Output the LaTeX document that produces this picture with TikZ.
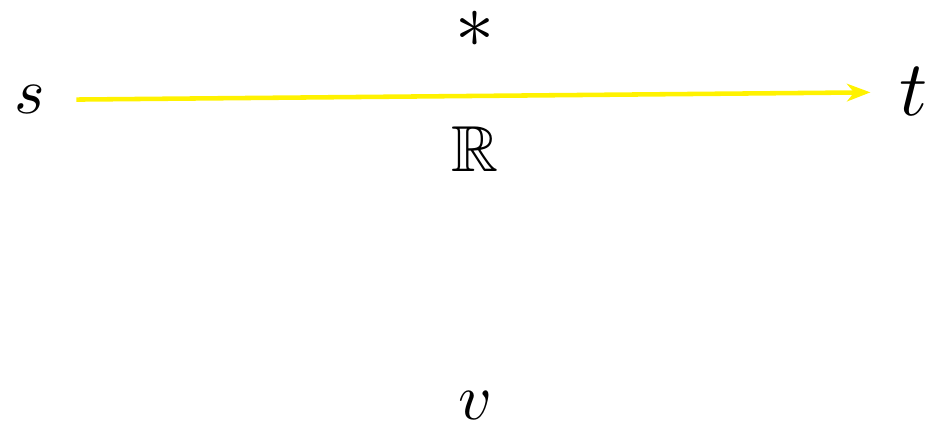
\documentclass[tikz,border=0pt]{standalone}
\usepackage{amssymb}
\usetikzlibrary{arrows.meta}
\tikzset{
  lbl/.style={inner sep=0pt, anchor=base},
  yarrow/.style={draw=yellow, fill=yellow, line width=0.7pt,
    -{Stealth[length=3.6pt,width=2.7pt,inset=1.1pt]},
    shorten <=4.6pt, shorten >=4.3pt}
}
\begin{document}
\begin{tikzpicture}[x=0.1538pt,y=-0.1538pt]
\useasboundingbox (0,0) rectangle (930,424);
\node[lbl] (s) at (30,114) {$s$};
\node[lbl, scale=1.2] (t) at (914,116) {$t$};
\node[inner sep=0pt, scale=1.2] (star) at (475,29) {$\ast$};
\node[lbl] (R) at (475,172) {$\mathbb{R}$};
\node[lbl] (v) at (475,420) {$v$};
\draw[yarrow] (s) -- (t);
\end{tikzpicture}
\end{document}
